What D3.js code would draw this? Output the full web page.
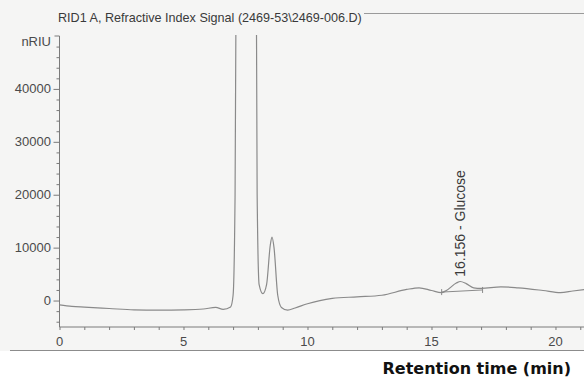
<!DOCTYPE html>
<html>
<head>
<meta charset="utf-8">
<script src="https://cdn.jsdelivr.net/npm/d3@7"></script>
<style>
  body { margin: 0; background: #fff; }
  svg { display: block; }
</style>
</head>
<body>
<div id="chart"></div>
<script>
// chromatogram (minutes, nRIU)
const timeMin = [0, 0.5, 1, 2, 3, 4, 5, 5.8, 6.3, 6.6, 6.9, 7.0, 7.08, 7.14, 7.5, 7.92, 7.97, 8.05,
  8.2, 8.35, 8.5, 8.57, 8.65, 8.8, 8.95, 9.2, 9.5, 10, 10.5, 11, 12, 13, 14, 14.5, 15, 15.4,
  15.6, 16.0, 16.16, 16.4, 16.7, 17, 17.8, 18.5, 19.5, 20.2, 20.7, 21.2];
const signal = [-800, -1100, -1250, -1500, -1750, -1800, -1750, -1600, -1300, -1650, -1200, 1000, 20000, 80000, 200000, 80000, 20000, 3000,
  1300, 3000, 10500, 12000, 10000, 1000, -1300, -1800, -1400, -600, 0, 400, 700, 1000, 2100, 2400, 1900, 1500,
  1900, 3300, 3600, 3200, 2400, 2300, 2600, 2400, 1900, 1500, 1800, 2100];

// integration baseline under the glucose peak
const baseT = [15.41, 17.06];
const baseV = [1600, 2000];

const peakTime = 16.156;
const peakLabel = '16.156 - Glucose';
const peakLabelV = 4500;

const yMajor = [0, 10000, 20000, 30000, 40000];
const xMajor = [0, 5, 10, 15, 20];

const W = 584, H = 377;
const margin = {top: 36, right: 0, bottom: 50, left: 59.5};

const svg = d3.select('#chart').append('svg')
  .attr('width', W)
  .attr('height', H);

svg.append('rect')
  .attr('width', W).attr('height', 351)
  .attr('fill', '#f5f5f4');

const x = d3.scaleLinear().domain([0, 21.15]).range([margin.left, W - margin.right]);
const y = d3.scaleLinear().domain([-5000, 50000]).range([H - margin.bottom, margin.top]);

const font = "'Liberation Sans', Arial, sans-serif";
const axisColor = '#7a7a7a';
const textColor = '#4a4a4a';

// title + the frame line after it
svg.append('text')
  .attr('x', 58).attr('y', 22)
  .style('font-family', font).style('font-size', '12.6px')
  .attr('fill', '#3a3a3a')
  .text('RID1 A, Refractive Index Signal (2469-53\\2469-006.D)');

svg.append('line')
  .attr('x1', 364).attr('x2', W).attr('y1', 13.5).attr('y2', 13.5)
  .attr('stroke', '#9a9a9a');

// Y axis
const yAxis = d3.axisLeft(y)
  .tickValues(d3.range(-4000, 50000, 2000))
  .tickSize(3)
  .tickFormat('');
const gy = svg.append('g')
  .attr('transform', 'translate(' + margin.left + ',0)')
  .call(yAxis);
gy.select('.domain').attr('d', 'M-5,' + y(50000) + 'H0V' + y(-5000));
gy.selectAll('.tick line')
  .attr('x2', d => yMajor.includes(d) ? -6 : -3);
gy.selectAll('path, line').attr('stroke', axisColor);

svg.selectAll('.ylab')
  .data(yMajor)
  .enter().append('text')
  .attr('x', 51).attr('y', d => y(d) + 4.5)
  .attr('text-anchor', 'end')
  .style('font-family', font).style('font-size', '13px')
  .attr('fill', textColor)
  .text(d => d);

svg.append('text')
  .attr('x', 51).attr('y', y(50000) + 10)
  .attr('text-anchor', 'end')
  .style('font-family', font).style('font-size', '13px')
  .attr('fill', textColor)
  .text('nRIU');

// X axis
const xAxis = d3.axisBottom(x)
  .tickValues(d3.range(0, 22, 1))
  .tickSize(3)
  .tickFormat('');
const gx = svg.append('g')
  .attr('transform', 'translate(0,' + y(-5000) + ')')
  .call(xAxis);
gx.select('.domain').attr('d', 'M' + margin.left + ',0H' + W);
gx.selectAll('path, line').attr('stroke', axisColor);

svg.selectAll('.xlab')
  .data(xMajor)
  .enter().append('text')
  .attr('x', d => x(d)).attr('y', 346)
  .attr('text-anchor', 'middle')
  .style('font-family', font).style('font-size', '13px')
  .attr('fill', textColor)
  .text(d => d);

svg.append('line')
  .attr('x1', 10).attr('x2', W).attr('y1', 350.5).attr('y2', 350.5)
  .attr('stroke', '#8c8c8c');

svg.append('text')
  .attr('x', 571).attr('y', 374)
  .attr('text-anchor', 'end')
  .style('font-family', "'DejaVu Sans', Verdana, sans-serif")
  .style('font-size', '16px').style('font-weight', 'bold')
  .attr('fill', '#111')
  .text('Retention time (min)');

// trace
svg.append('clipPath').attr('id', 'plot')
  .append('rect')
  .attr('x', margin.left).attr('y', 35)
  .attr('width', W - margin.left).attr('height', y(-5000) - 35);

const pts = timeMin.map((t, i) => [t, signal[i]]);
const line = d3.line()
  .x(d => x(d[0]))
  .y(d => y(d[1]))
  .curve(d3.curveMonotoneX);

svg.append('path')
  .attr('clip-path', 'url(#plot)')
  .attr('d', line(pts))
  .attr('fill', 'none')
  .attr('stroke', '#8a8a8a')
  .attr('stroke-width', 1.2);

// integration baseline and its end marks
svg.append('line')
  .attr('x1', x(baseT[0])).attr('y1', y(baseV[0]))
  .attr('x2', x(baseT[1])).attr('y2', y(baseV[1]))
  .attr('stroke', '#8a8a8a');
svg.selectAll('.bmark')
  .data(baseT)
  .enter().append('line')
  .attr('x1', d => x(d)).attr('x2', d => x(d))
  .attr('y1', (d, i) => y(baseV[i]) - 3).attr('y2', (d, i) => y(baseV[i]) + 3)
  .attr('stroke', '#8a8a8a');

// peak label, rotated
svg.append('text')
  .attr('transform', 'translate(' + (x(peakTime) + 5) + ',' + y(peakLabelV) + ') rotate(-90)')
  .style('font-family', font).style('font-size', '14px')
  .attr('fill', '#3a3a3a')
  .text(peakLabel);
</script>
</body>
</html>
